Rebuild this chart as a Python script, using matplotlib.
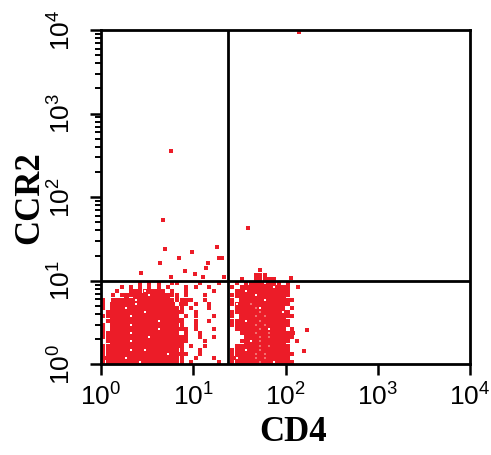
import numpy as np
import matplotlib.pyplot as plt
from matplotlib.colors import ListedColormap
from matplotlib.ticker import FixedLocator, LogLocator, NullFormatter

plt.rcParams['font.family'] = 'Liberation Sans'
plt.rcParams['mathtext.fontset'] = 'custom'
plt.rcParams['mathtext.rm'] = 'Liberation Sans'
plt.rcParams['mathtext.it'] = 'Liberation Sans:italic'
plt.rcParams['mathtext.bf'] = 'Liberation Sans:bold'

# axis decades and labels
decades = [1, 10, 100, 1000, 10000]
tick_labels = ['$10^{0}$', '$10^{1}$', '$10^{2}$', '$10^{3}$', '$10^{4}$']

# quadrant gates
cd4_gate = 23.7
ccr2_gate = 10.0

# dense events, cells of 0.05 decade; first row is log(CCR2) 1.10-1.15, last row 0-0.05
# '#' filled, ':' filled with a small gap, 'o' filled with lighter core,
# '+' single event, '.' empty
event_map = [
    "............................" + "......+...........",
    "............................" + ".....+++..........",
    "............................" + "..+..+#+#+........",
    "........+.+.+..++....+...+.." + ".+.+###:##+.+.....",
    "....+.+.+.+.+.+...+.+..+...." + "+.+######:##+.....",
    "...+..+#+:#+#+.+..+.....+..." + ".+#:########+.....",
    "..+.+#+###:####+#.+...+....." + "+####:######+.....",
    "+.+####:#######+#+#+..+....." + "+.#####:####++....",
    "+.#####:########.#+.+..+...." + "+:##o#######+.....",
    "+.###:###########+.+...+...." + ".+###o:####+.+....",
    ".+#######:########..+......." + "+#####o####:+.....",
    "+#####:##########.+.+...+..." + "+.###o#o#####+....",
    ".+##########:#####..+..+...." + "++#:##o#####+.....",
    "+.####:##########+..+......." + "+####o#o####+.....",
    "+.##########:#####+.+...+..." + ".+####o#:###.+....",
    "+#####:##########.+..+......" + "..+##o##o###+#....",
    "++########:#######+..+..+..." + "...###o#o####+....",
    ".+####:###########+...+....." + "..+#:#o#####+.+...",
    "+#################.+..+....." + ".+####o#o###+.....",
    "++####:##:#######+...+......" + "+##:##o#####+.....",
    "+#############:###+..+......" + "+####o#o#####+....",
    "#####:###########+..+...+..." + "#:###o#o####+.....",
    "+#######:########+.+.....+.." + "+#####o##:###+....",
]
cell_step = 0.05

# isolated events
out_cd4 = [140, 5.7, 4.7, 39.6, 5.0, 4.4, 7.0, 9.8, 18.0, 19.0, 20.3, 14.4,
           13.7, 8.2, 10.5, 2.7, 5.7, 12.7, 21.7, 114, 138, 170, 159]
out_ccr2 = [9460, 357, 53, 42.5, 23.8, 16.5, 18.9, 21.9, 25.4, 18.9, 18.9, 16.5,
            14.1, 13.1, 12.2, 12.3, 11.0, 11.0, 11.2, 10.7, 8.5, 2.6, 1.45]

red = '#ec1c28'
light = '#f27070'

fig = plt.figure(figsize=(4.91, 4.55), dpi=100)
ax = fig.add_axes([101 / 491, 90.6 / 455, 369 / 491, 334.4 / 455])

grid = np.array([list(row.ljust(46, '.')[:46]) for row in event_map[::-1]])
nr, nc = grid.shape
xe = 10 ** (np.arange(nc + 1) * cell_step)
ye = 10 ** (np.arange(nr + 1) * cell_step)
xc = 10 ** ((np.arange(nc) + 0.5) * cell_step)
yc = 10 ** ((np.arange(nr) + 0.5) * cell_step)

filled = np.ma.masked_where(~np.isin(grid, ['#', 'o', ':']), np.ones(grid.shape))
ax.pcolormesh(xe, ye, filled, cmap=ListedColormap([red]), shading='flat',
              edgecolors='none', antialiased=False, zorder=1)

rr, cc = np.nonzero(grid == '+')
ax.scatter(xc[cc], yc[rr], s=9, marker='s', color=red, linewidths=0, zorder=2)
rr, cc = np.nonzero(grid == 'o')
ax.scatter(xc[cc], yc[rr], s=4, marker='s', color=light, linewidths=0, zorder=2)
rr, cc = np.nonzero(grid == ':')
ax.scatter(xc[cc], yc[rr], s=3, marker='s', color='white', linewidths=0, zorder=2)

ax.scatter(out_cd4, out_ccr2, s=9, marker='s', color=red, linewidths=0, zorder=2)

ax.axvline(cd4_gate, color='black', lw=2.0, zorder=3)
ax.axhline(ccr2_gate, color='black', lw=2.0, zorder=3)

ax.set_xscale('log')
ax.set_yscale('log')
ax.set_xlim(1, 10000)
ax.set_ylim(1, 10000)

for axis in (ax.xaxis, ax.yaxis):
    axis.set_major_locator(FixedLocator(decades))
    axis.set_minor_locator(LogLocator(base=10, subs=np.arange(2, 10)))
    axis.set_minor_formatter(NullFormatter())
ax.set_xticklabels(tick_labels)
ax.set_yticklabels(tick_labels, rotation=90, va='center')

ax.tick_params(which='major', direction='out', length=8, width=1.8, labelsize=19)
ax.tick_params(which='minor', direction='out', length=4.5, width=1.4)
ax.tick_params(axis='x', pad=6)
ax.tick_params(axis='y', pad=10)
for sp in ax.spines.values():
    sp.set_linewidth(2.0)

ax.set_xlabel('CD4', fontfamily='Liberation Serif', fontweight='bold', fontsize=25)
ax.set_ylabel('CCR2', fontfamily='Liberation Serif', fontweight='bold', fontsize=25)
ax.xaxis.set_label_coords(0.52, -0.205)
ax.xaxis.label.set_va('center')
ax.yaxis.set_label_coords(-0.192, 0.5)
ax.yaxis.label.set_va('center')

fig.savefig('out.png', dpi=100)
